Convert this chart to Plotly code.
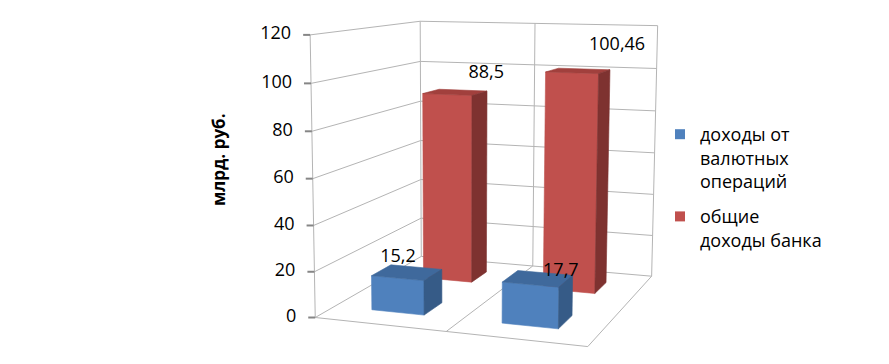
import numpy as np
import plotly.graph_objects as go

# ---------------- data ----------------
categories = ["Период 1", "Период 2"]          # category names are not printed in the chart
series_names = ["доходы от<br>валютных<br>операций", "общие<br>доходы банка"]
fx_income = [15.2, 17.7]                       # доходы от валютных операций
total_income = [88.5, 100.46]                  # общие доходы банка
y_ticks = [0, 20, 40, 60, 80, 100, 120]
y_title = "млрд. руб."

series_values = [fx_income, total_income]
NCAT, NS, ZMAX = len(categories), len(series_values), max(y_ticks)

# ---------------- 3-D view (camera) settings ----------------
VIEW = dict(yaw=0.354234, pitch=0.157132, cam_x=2.01469, cam_d=-3.97709, cam_z=1.26458,
            focal=1288.41, px=458.966, py=160.86, cat_width=0.49746, depth=1.00639)
BAR_HALF_WIDTH = 0.205     # in category units (Excel gap width)
BAR_HALF_DEPTH = 0.088     # in depth units (Excel gap depth)


def project(X, D, Z):
    """3-D chart coordinates (category, series depth, value) -> 2-D plot coordinates."""
    X, D, Z = (np.asarray(a, float) for a in (X, D, Z))
    th, ph = VIEW["yaw"], VIEW["pitch"]
    rx = X * VIEW["cat_width"] - VIEW["cam_x"]
    rd = D * VIEW["depth"] - VIEW["cam_d"]
    rz = Z / ZMAX - VIEW["cam_z"]
    xc = rx * np.cos(th) + rd * np.sin(th)
    hc = -rx * np.sin(th) + rd * np.cos(th)
    zc = hc * np.cos(ph) - rz * np.sin(ph)
    yc = hc * np.sin(ph) + rz * np.cos(ph)
    return VIEW["px"] + VIEW["focal"] * xc / zc, VIEW["py"] - VIEW["focal"] * yc / zc


# ---------------- styles ----------------
FONT = "Open Sans"
GRID = "#b4b4b4"
TICKC = "#868686"
face_colors = [dict(front="#4F81BD", top="#3F699C", side="#365B87"),
               dict(front="#C0504D", top="#A1403D", side="#7E3230")]
LABEL_NUDGE = [[(-9, -15), (23, -7)], [(31, -19), (39, -25)]]

fig = go.Figure()


def add_segments(segs, color, width):
    xs, ys = [], []
    for a, b in segs:
        u, v = project(*zip(a, b))
        xs += [u[0], u[1], None]
        ys += [v[0], v[1], None]
    fig.add_trace(go.Scatter(x=xs, y=ys, mode="lines", line=dict(color=color, width=width),
                             hoverinfo="skip", showlegend=False))


# walls, floor and gridlines
segs = []
for z in y_ticks:
    segs.append(((0, 0, z), (0, 1, z)))
    segs.append(((0, 1, z), (NCAT, 1, z)))
for i in range(NCAT + 1):
    segs.append(((i, 1, 0), (i, 1, ZMAX)))
segs.append(((0, 0, 0), (0, 0, ZMAX)))
segs.append(((0, 0, 0), (NCAT, 0, 0)))
segs.append(((NCAT, 0, 0), (NCAT, 1, 0)))
for i in range(1, NCAT):
    segs.append(((i, 0, 0), (i, 1, 0)))
add_segments(segs, GRID, 1)

# tick marks and tick labels on the front-left edge
tu, tv = project([0] * len(y_ticks), [0] * len(y_ticks), y_ticks)
xs, ys = [], []
for u, v in zip(tu, tv):
    xs += [u - 7, u, None]
    ys += [v, v, None]
fig.add_trace(go.Scatter(x=xs, y=ys, mode="lines", line=dict(color=TICKC, width=2),
                         hoverinfo="skip", showlegend=False))
fig.add_trace(go.Scatter(x=tu - 19, y=tv, mode="text", text=[str(t) for t in y_ticks],
                         textposition="middle left", textfont=dict(family=FONT, size=18, color="#000"),
                         hoverinfo="skip", showlegend=False))


def add_face(pts, color):
    u, v = project(*zip(*pts))
    fig.add_trace(go.Scatter(x=list(u) + [u[0]], y=list(v) + [v[0]], mode="lines", fill="toself",
                             fillcolor=color, line=dict(color=color, width=0.6),
                             hoverinfo="skip", showlegend=False))


# bars, back row first
for s in reversed(range(NS)):
    for c in range(NCAT):
        val = series_values[s][c]
        x0, x1 = c + 0.5 - BAR_HALF_WIDTH, c + 0.5 + BAR_HALF_WIDTH
        d0, d1 = (s + 0.5) / NS - BAR_HALF_DEPTH, (s + 0.5) / NS + BAR_HALF_DEPTH
        col = face_colors[s]
        add_face([(x0, d0, 0), (x1, d0, 0), (x1, d0, val), (x0, d0, val)], col["front"])
        add_face([(x0, d0, val), (x1, d0, val), (x1, d1, val), (x0, d1, val)], col["top"])
        add_face([(x1, d0, 0), (x1, d1, 0), (x1, d1, val), (x1, d0, val)], col["side"])

# data labels
for s in range(NS):
    lu, lv = project([c + 0.5 for c in range(NCAT)], [(s + 0.5) / NS] * NCAT, series_values[s])
    fig.add_trace(go.Scatter(
        x=[u + LABEL_NUDGE[s][c][0] for c, u in enumerate(lu)],
        y=[v + LABEL_NUDGE[s][c][1] for c, v in enumerate(lv)],
        mode="text", text=[f"{v:g}".replace(".", ",") for v in series_values[s]],
        textposition="middle center", textfont=dict(family=FONT, size=18, color="#000"),
        hoverinfo="skip", showlegend=False))

# legend entries
for s in range(NS):
    fig.add_trace(go.Scatter(x=[None], y=[None], mode="markers", name=series_names[s],
                             legendgroup=f"s{s}",
                             marker=dict(symbol="square", size=10, color=face_colors[s]["front"])))

fig.add_annotation(x=218, y=160, xref="x", yref="y", text=f"<b>{y_title}</b>", textangle=-90,
                   showarrow=False, font=dict(family=FONT, size=17, color="#000"))

fig.update_layout(
    width=889, height=364, autosize=False, margin=dict(l=0, r=0, t=0, b=0),
    paper_bgcolor="white", plot_bgcolor="white",
    xaxis=dict(range=[0, 889], visible=False, fixedrange=True),
    yaxis=dict(range=[364, 0], visible=False, fixedrange=True),
    legend=dict(x=660 / 889, y=1 - 116 / 364, xanchor="left", yanchor="top", valign="top",
                font=dict(family=FONT, size=18, color="#000"), traceorder="grouped",
                tracegroupgap=9, bgcolor="rgba(0,0,0,0)"),
    font=dict(family=FONT),
)
fig.write_html("out.html")
